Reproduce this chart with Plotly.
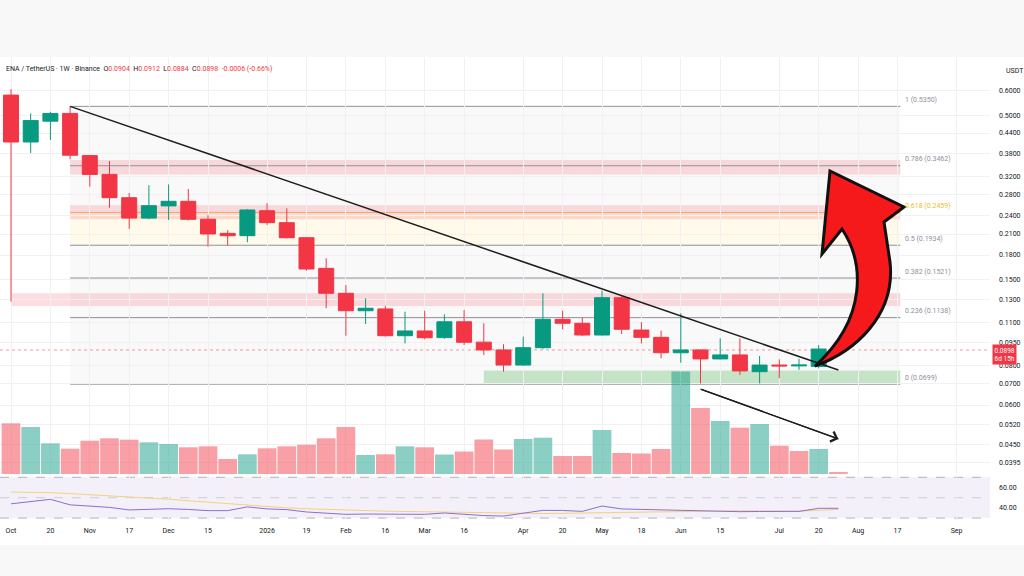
import numpy as np
import pandas as pd
import plotly.graph_objects as go

W, H = 1024, 576

# ---------------- data ----------------
dates = pd.date_range("2025-10-06", periods=43, freq="7D")

opens = [0.581, 0.412, 0.480, 0.508, 0.373, 0.325, 0.274, 0.236, 0.258, 0.2668,
         0.234, 0.211, 0.2074, 0.2491, 0.2282, 0.2044, 0.1633, 0.136, 0.1197, 0.1213,
         0.0997, 0.1032, 0.0983, 0.1104, 0.0951, 0.0898, 0.0804, 0.0913, 0.1124, 0.1092,
         0.1002, 0.1317, 0.1039, 0.0985, 0.0880, 0.0898, 0.0841, 0.0866, 0.0766, 0.0804,
         0.0799, 0.0796, 0.0904]
highs = [0.607, 0.508, 0.514, 0.535, 0.375, 0.3585, 0.2836, 0.300, 0.302, 0.292,
         0.241, 0.216, 0.252, 0.263, 0.2535, 0.2050, 0.1758, 0.1445, 0.1311, 0.124,
         0.1188, 0.1197, 0.1166, 0.1203, 0.1092, 0.0937, 0.0990, 0.1360, 0.1197, 0.1137,
         0.1386, 0.1343, 0.1101, 0.1035, 0.1175, 0.0903, 0.0978, 0.0978, 0.0859, 0.0838,
         0.0842, 0.0931, 0.0912]
lows = [0.128, 0.380, 0.418, 0.363, 0.297, 0.2547, 0.218, 0.234, 0.2327, 0.232,
        0.1914, 0.1928, 0.1977, 0.2244, 0.203, 0.1605, 0.1219, 0.0997, 0.1086, 0.099,
        0.0942, 0.0971, 0.0975, 0.0931, 0.0866, 0.0766, 0.0800, 0.0905, 0.1045, 0.0995,
        0.0998, 0.1009, 0.0942, 0.0845, 0.0818, 0.0703, 0.0838, 0.0748, 0.0703, 0.0730,
        0.0776, 0.0785, 0.0884]
closes = [0.412, 0.482, 0.508, 0.374, 0.325, 0.274, 0.236, 0.2584, 0.2668, 0.2339,
          0.210, 0.2074, 0.2504, 0.2282, 0.2044, 0.1625, 0.136, 0.1197, 0.1219, 0.0997,
          0.1032, 0.0982, 0.1104, 0.0950, 0.0898, 0.0804, 0.0913, 0.1124, 0.1092, 0.1002,
          0.1317, 0.1045, 0.0985, 0.0880, 0.0898, 0.0841, 0.0866, 0.0770, 0.0804, 0.0799,
          0.0804, 0.0904, 0.0898]

volumes = [507, 470, 307, 253, 333, 357, 343, 317, 300, 267,
           277, 150, 197, 257, 277, 293, 357, 470, 190, 197,
           277, 267, 195, 225, 345, 245, 350, 363, 180, 180,
           440, 210, 205, 250, 1025, 660, 530, 463, 500, 283,
           230, 250, 20]
volume_dir = ["d", "u", "u", "d", "d", "d", "d", "u", "u", "d",
              "d", "d", "u", "d", "d", "d", "d", "d", "u", "d",
              "u", "d", "u", "d", "d", "d", "u", "u", "d", "d",
              "u", "d", "d", "d", "u", "d", "u", "d", "u", "d",
              "d", "u", "d"]

rsi = [44, 46, 48.4, 43, 42, 40.5, 38, 38.8, 39.2, 38.5,
       37.3, 37.3, 41, 39, 38.3, 36, 34.5, 33.7, 34, 34,
       34, 33.7, 35, 33.5, 32.5, 32, 34.5, 37.6, 37.5, 36.6,
       41.8, 39, 38.5, 38, 37.3, 37, 36.6, 36.3, 36.5, 36.6,
       36.6, 39.6, 39.6]
rsi_ma = [55.5, 55.3, 55, 54, 53, 52, 51, 49.5, 48.5, 47,
          45.5, 44, 42.5, 41, 40, 39.2, 38.5, 37.9, 37.3, 36.8,
          36.5, 36.2, 36, 35.5, 35, 34.7, 34.5, 34.5, 34.7, 35,
          35.6, 36, 36.3, 36.6, 37, 37.2, 37.3, 37.2, 37, 36.7,
          36.8, 37.6, 38.5]

x_tick_dates = ["2025-10-06", "2025-10-20", "2025-11-03", "2025-11-17", "2025-12-01",
                "2025-12-15", "2026-01-05", "2026-01-19", "2026-02-02", "2026-02-16",
                "2026-03-02", "2026-03-16", "2026-04-06", "2026-04-20", "2026-05-04",
                "2026-05-18", "2026-06-01", "2026-06-15", "2026-07-06", "2026-07-20",
                "2026-08-03", "2026-08-17", "2026-09-07"]
x_tick_text = ["Oct", "20", "Nov", "17", "Dec", "15", "2026", "19", "Feb", "16",
               "Mar", "16", "Apr", "20", "May", "18", "Jun", "15", "Jul", "20",
               "Aug", "17", "Sep"]
price_ticks = [0.6, 0.5, 0.44, 0.38, 0.32, 0.28, 0.24, 0.21, 0.18, 0.15, 0.13,
               0.11, 0.095, 0.08, 0.07, 0.06, 0.052, 0.045, 0.0395]

fib_ratios = ["1", "0.786", "0.618", "0.5", "0.382", "0.236", "0"]
fib_prices = [0.5350, 0.3462, 0.2459, 0.1934, 0.1521, 0.1138, 0.0699]
fib_start = "2025-10-27"
fib_end = "2026-08-18"

# drawn zones: (start date, low price, high price)
red_zones = [("2025-10-27", 0.325, 0.361), ("2025-10-27", 0.2339, 0.2594),
             ("2025-10-06", 0.124, 0.136)]
green_zone = ("2026-03-23", 0.0699, 0.0772)

trend_start = ("2025-10-27", 0.535)
trend_end = ("2026-07-27", 0.0775)
vol_arrow_start = ("2026-06-08", 0.0674)
vol_arrow_end = ("2026-07-27", 0.0468)

# ---------------- layout geometry ----------------
PX_PER_LN = 136.5
Y_REF, P_REF = 90.7, 0.6


def price_at(ypix):
    return P_REF * np.exp(-(ypix - Y_REF) / PX_PER_LN)


def fy(ypix):
    return 1 - ypix / H


def fx(xpix):
    return xpix / W


PANE_TOP, PANE_BOT = 57, 474
RSI_TOP, RSI_BOT = 475, 521
PLOT_RIGHT = 990
DAY_PX = 19.7 / 7
x_start = dates[0] - pd.Timedelta(days=11 / DAY_PX)
x_end = x_start + pd.Timedelta(days=PLOT_RIGHT / DAY_PX)

UP, DOWN = "#089981", "#f23645"
FONT = "Roboto"
TXT = "#131722"
GRID = "#f1f1f3"

fig = go.Figure()

fig.add_trace(go.Bar(
    x=dates, y=volumes, xaxis="x", yaxis="y",
    marker=dict(color=["rgba(8,153,129,0.47)" if d == "u" else "rgba(242,54,69,0.47)"
                       for d in volume_dir], line=dict(width=0)),
    hoverinfo="skip"))

fig.add_trace(go.Candlestick(
    x=dates, open=opens, high=highs, low=lows, close=closes,
    xaxis="x", yaxis="y2",
    increasing=dict(line=dict(color=UP, width=1), fillcolor=UP),
    decreasing=dict(line=dict(color=DOWN, width=1), fillcolor=DOWN),
    whiskerwidth=0, hoverinfo="skip"))

fig.add_trace(go.Scatter(
    x=[trend_start[0], trend_end[0]], y=[trend_start[1], trend_end[1]],
    xaxis="x", yaxis="y2", mode="lines",
    line=dict(color="#1e1e1e", width=1.5), hoverinfo="skip"))

fig.add_trace(go.Scatter(
    x=[vol_arrow_start[0], vol_arrow_end[0]], y=[vol_arrow_start[1], vol_arrow_end[1]],
    xaxis="x", yaxis="y2", mode="lines",
    line=dict(color="#1e1e1e", width=1.3), hoverinfo="skip"))

fig.add_trace(go.Scatter(x=dates, y=rsi_ma, xaxis="x2", yaxis="y3", mode="lines",
                         line=dict(color="#f2d27e", width=1), hoverinfo="skip"))
fig.add_trace(go.Scatter(x=dates, y=rsi, xaxis="x2", yaxis="y3", mode="lines",
                         line=dict(color="#8a6fd0", width=1), hoverinfo="skip"))

shapes = []
# white chart panel
shapes.append(dict(type="rect", xref="paper", yref="paper", x0=0, x1=1,
                   y0=fy(545), y1=fy(57), fillcolor="white", line=dict(width=0),
                   layer="below"))
# fib zone fills
for i in range(len(fib_prices) - 1):
    col = "rgba(255,236,170,0.26)" if fib_ratios[i] == "0.618" else "rgba(0,0,0,0.022)"
    shapes.append(dict(type="rect", xref="x", yref="y2", x0=fib_start, x1=fib_end,
                       y0=fib_prices[i + 1], y1=fib_prices[i], fillcolor=col,
                       line=dict(width=0), layer="below"))
# red zones
for (d0, lo, hi) in red_zones:
    shapes.append(dict(type="rect", xref="x", yref="y2", x0=d0, x1=fib_end,
                       y0=lo, y1=hi, fillcolor="rgba(242,54,69,0.17)",
                       line=dict(width=0), layer="below"))
# green zone
shapes.append(dict(type="rect", xref="x", yref="y2", x0=green_zone[0], x1=fib_end,
                   y0=green_zone[1], y1=green_zone[2], fillcolor="rgba(76,175,80,0.3)",
                   line=dict(width=0), layer="below"))
# fib lines
for r, p in zip(fib_ratios, fib_prices):
    col = "#f0a868" if r == "0.618" else "#8e9099"
    shapes.append(dict(type="line", xref="x", yref="y2", x0=fib_start, x1=fib_end,
                       y0=p, y1=p, line=dict(color=col, width=1), layer="below"))
# current price dotted line
shapes.append(dict(type="line", xref="paper", yref="y2", x0=0, x1=fx(PLOT_RIGHT),
                   y0=closes[-1], y1=closes[-1],
                   line=dict(color="rgba(242,54,69,0.5)", width=1, dash="dot"),
                   layer="below"))
# RSI band
shapes.append(dict(type="rect", xref="paper", yref="y3", x0=0, x1=fx(PLOT_RIGHT),
                   y0=30, y1=70, fillcolor="rgba(126,87,194,0.09)",
                   line=dict(width=0), layer="below"))
for lvl, a in [(70, 0.55), (50, 0.3), (30, 0.55)]:
    shapes.append(dict(type="line", xref="paper", yref="y3", x0=0, x1=fx(PLOT_RIGHT),
                       y0=lvl, y1=lvl,
                       line=dict(color=f"rgba(120,123,134,{a})", width=1, dash="dash"),
                       layer="below"))

# big red curved arrow (drawing, pixel geometry)
arrow_px = [("M", 815, 366), ("C", 854, 352, 896, 316, 890, 262), ("L", 884, 222),
            ("L", 904, 207), ("L", 830, 171), ("L", 822, 254), ("L", 842, 229),
            ("C", 864, 262, 868, 318, 815, 366)]
parts = []
for seg in arrow_px:
    cmd, nums = seg[0], seg[1:]
    pts = []
    for k in range(0, len(nums), 2):
        pts.append(f"{fx(nums[k]):.5f},{fy(nums[k + 1]):.5f}")
    parts.append(cmd + " " + " ".join(pts))
arrow_path = " ".join(parts) + " Z"
shapes.append(dict(type="path", xref="paper", yref="paper", path=arrow_path,
                   fillcolor="#f5191c", line=dict(color="#111111", width=3),
                   layer="above"))

annotations = []
# header
hdr = ("ENA / TetherUS · 1W · Binance  "
       f"O<span style='color:{DOWN}'>{opens[-1]:.4f}</span>  "
       f"H<span style='color:{DOWN}'>{highs[-1]:.4f}</span>  "
       f"L<span style='color:{DOWN}'>{lows[-1]:.4f}</span>  "
       f"C<span style='color:{DOWN}'>{closes[-1]:.4f}</span>  "
       f"<span style='color:{DOWN}'>{closes[-1]-opens[-1]:+.4f} "
       f"({(closes[-1]-opens[-1])/opens[-1]*100:+.2f}%)</span>")
annotations.append(dict(xref="paper", yref="paper", x=fx(4), y=fy(69), text=hdr,
                        showarrow=False, xanchor="left", yanchor="middle",
                        font=dict(family=FONT, size=7, color=TXT)))
annotations.append(dict(xref="paper", yref="paper", x=fx(1004), y=fy(71), text="USDT",
                        showarrow=False, xanchor="left", yanchor="middle",
                        font=dict(family=FONT, size=7, color=TXT)))
# fib labels
for r, p in zip(fib_ratios, fib_prices):
    col = "#e9bd2f" if r == "0.618" else "#8e9099"
    annotations.append(dict(xref="paper", yref="y2", x=fx(903), y=np.log10(p),
                            text=f"{r} ({p:.4f})", showarrow=False, xanchor="left",
                            yanchor="middle", yshift=6.5,
                            font=dict(family=FONT, size=7, color=col)))
# price label
annotations.append(dict(xref="paper", yref="y2", x=fx(992), y=np.log10(closes[-1]),
                        text=f"{closes[-1]:.4f}<br>6d 15h", showarrow=False,
                        xanchor="left", yanchor="top", yshift=6, bgcolor=DOWN,
                        borderpad=1.5, align="center",
                        font=dict(family=FONT, size=6.5, color="white")))
# arrow head for the volume trend arrow
annotations.append(dict(xref="x", yref="y2", x=vol_arrow_end[0],
                        y=np.log10(vol_arrow_end[1]), axref="x", ayref="y2",
                        ax=vol_arrow_start[0], ay=np.log10(vol_arrow_start[1]),
                        showarrow=True, arrowhead=4, arrowsize=1.6, arrowwidth=1.3,
                        arrowcolor="#1e1e1e", text=""))

fig.update_layout(
    width=W, height=H, autosize=False,
    margin=dict(l=0, r=0, t=0, b=0, pad=0),
    paper_bgcolor="#f8f8f8", plot_bgcolor="rgba(0,0,0,0)",
    showlegend=False, hovermode=False,
    boxgap=0.24, boxgroupgap=0, bargap=0.05,
    shapes=shapes, annotations=annotations,
    font=dict(family=FONT, size=7, color=TXT),
    xaxis=dict(domain=[0, fx(PLOT_RIGHT)], range=[x_start, x_end], type="date",
               anchor="y", showticklabels=False, tickvals=x_tick_dates,
               showgrid=True, gridcolor=GRID, gridwidth=1, zeroline=False,
               showline=False, ticks="", rangeslider=dict(visible=False)),
    yaxis=dict(domain=[fy(PANE_BOT), fy(PANE_TOP)], range=[0, 4170], visible=False,
               anchor="x", fixedrange=True),
    yaxis2=dict(domain=[fy(PANE_BOT), fy(PANE_TOP)], overlaying="y", side="right",
                anchor="x", type="log",
                range=[np.log10(price_at(PANE_BOT)), np.log10(price_at(PANE_TOP))],
                tickvals=price_ticks, ticktext=[f"{v:.4f}" for v in price_ticks],
                showgrid=True, gridcolor=GRID, zeroline=False, showline=False,
                ticks="", ticklabelstandoff=8,
                tickfont=dict(family=FONT, size=7, color=TXT)),
    xaxis2=dict(domain=[0, fx(PLOT_RIGHT)], matches="x", anchor="y3", type="date",
                tickvals=x_tick_dates, ticktext=x_tick_text, showgrid=True,
                gridcolor=GRID, zeroline=False, showline=False, ticks="",
                ticklabelstandoff=4,
                tickfont=dict(family=FONT, size=7, color=TXT),
                rangeslider=dict(visible=False)),
    yaxis3=dict(domain=[fy(RSI_BOT), fy(RSI_TOP)], anchor="x2", side="right",
                range=[50 - (RSI_BOT - 497.7) / 1.02, 50 + (497.7 - RSI_TOP) / 1.02],
                tickvals=[40, 60], ticktext=["40.00", "60.00"], showgrid=False,
                zeroline=False, showline=False, ticks="", ticklabelstandoff=8,
                tickfont=dict(family=FONT, size=7, color=TXT)),
)

fig.write_html("out.html")
